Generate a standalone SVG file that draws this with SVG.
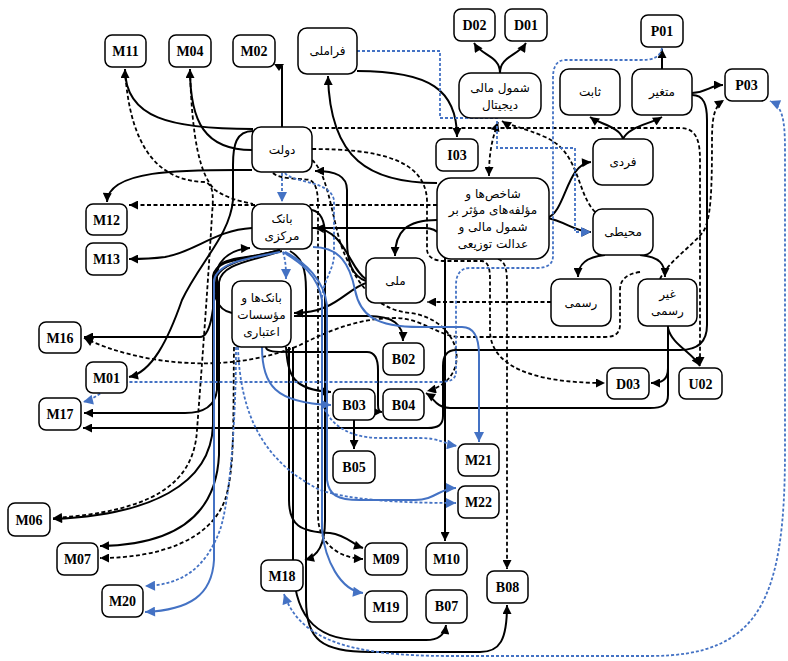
<svg xmlns="http://www.w3.org/2000/svg" width="788" height="661" viewBox="0 0 788 661">
<style>
.n rect{fill:#fff;stroke:#000;stroke-width:1.5}
.c{font-family:"Liberation Serif","Times New Roman",serif;font-weight:bold;font-size:14px;text-anchor:middle}
.p{font-family:"DejaVu Sans","Noto Sans",sans-serif;font-size:12px;text-anchor:middle}
.s{fill:none;stroke:#000;stroke-width:2;marker-end:url(#ak)}
.d{fill:none;stroke:#000;stroke-width:1.8;stroke-dasharray:4 2.5;marker-end:url(#ak)}
.b{fill:none;stroke:#4472C4;stroke-width:2;marker-end:url(#ab)}
.bd{fill:none;stroke:#4472C4;stroke-width:1.8;stroke-dasharray:3 2;marker-end:url(#ab)}
.na{marker-end:none}
.two{marker-start:url(#ak)}
.twob{marker-start:url(#ab)}
</style>
<defs>
<marker id="ak" viewBox="0 0 10 10" refX="10" refY="5" markerWidth="10" markerHeight="9" markerUnits="userSpaceOnUse" orient="auto-start-reverse"><path d="M0,0 L10,5 L0,10 z" fill="#000"/></marker>
<marker id="ab" viewBox="0 0 10 10" refX="10" refY="5" markerWidth="11" markerHeight="10" markerUnits="userSpaceOnUse" orient="auto-start-reverse"><path d="M0,0 L10,5 L0,10 z" fill="#4472C4"/></marker>
</defs>
<rect width="788" height="661" fill="#fff"/>
<g id="connectors">
<path class="s" d="M253,129 C170,129 125,118 125,69"/>
<path class="s" d="M252,150 C205,150 190,122 190,69"/>
<path class="s na" d="M282,127 V66"/>
<polygon points="274,64 284,64 279,71" fill="#000"/>
<path class="s" d="M437,183 C370,183 330,160 328,76"/>
<path class="s" d="M357,71 C430,71 457,90 457,137"/>
<path class="s" d="M500,73 C500,56 482,56 474,43"/>
<path class="s" d="M500,73 C500,56 518,56 526,43"/>
<path class="s" d="M623,139 C620,127 600,124 590,117"/>
<path class="s" d="M623,139 C628,127 650,124 662,117"/>
<path class="s" d="M662,69 V49"/>
<path class="s" d="M692,93 C708,92 710,85 723,85"/>
<path class="s" d="M547,218 C566,212 566,164 591,162"/>
<path class="s" d="M547,218 C565,221 575,232 591,232"/>
<path class="s" d="M605,255 C586,257 578,264 578,277"/>
<path class="s" d="M640,255 C660,257 665,264 665,277"/>
<path class="s" d="M668,326 V368 C668,380 662,383 651,383"/>
<path class="s" d="M668,328 C672,345 692,352 700,366"/>
<path class="s" d="M668,330 V395 C668,405 662,408 650,408 H450 C436,408 434,398 426,393"/>
<path class="s" d="M692,95 C704,95 707,105 707,120 V325 C707,343 697,350 680,350 H456 C447,350 443,356 443,366 V416 C443,425 438,428 428,428 H83"/>
<path class="s" d="M366,283 C345,290 335,313 294,313"/>
<path class="s" d="M294,316 H368 C394,316 403,325 403,341"/>
<path class="s" d="M366,279 C350,270 345,230 315,228"/>
<path class="s" d="M366,281 C352,276 347,262 347,240 V190 C347,176 336,171 315,171"/>
<path class="s" d="M437,220 C406,220 395,232 395,256"/>
<path class="s" d="M312,228 H425 C439,228 445,238 445,255 V541"/>
<path class="s" d="M252,228 C215,230 195,252 165,257 C150,259 140,259 129,259"/>
<path class="s" d="M252,170 C190,170 108,168 107,202"/>
<path class="s" d="M253,131 C236,131 233,145 233,165 V200 C230,235 200,262 182,300 C168,340 152,372 129,377"/>
<path class="s" d="M280,250 C260,258 226,256 219,266 C214,275 216,337 200,337 H84"/>
<path class="s" d="M280,250 C250,258 224,262 217,276 V390 C215,407 202,413 185,413 H84"/>
<path class="s" d="M280,250 C245,260 216,258 213,276 V425 C211,485 150,515 53,519"/>
<path class="s" d="M282,251 C247,262 222,264 219,282 V455 C216,520 170,545 100,546"/>
<path class="s" d="M232,313 C215,310 212,290 215,275 C220,256 235,249 250,248"/>
<path class="s" d="M286,347 C288,375 292,390 331,392"/>
<path class="s" d="M266,347 C266,352 276,352 290,352 H367 C376,352 378,360 378,370 V405 C378,410 379,412 382,412"/>
<path class="s" d="M354,420 V449"/>
<path class="s" d="M289,347 V500 C289,525 300,532 330,533 C346,535 354,545 363,548"/>
<path class="s" d="M312,210 C321,212 325,220 325,236 V520 C325,545 318,556 305,560"/>
<path class="s" d="M293,347 V560 C293,612 312,640 360,640 H426 C440,640 445,633 446,625"/>
<path class="s" d="M290,251 C302,258 306,268 306,290 V600 C306,640 322,652 370,652 H480 C500,652 507,640 507,605"/>
<path class="d" d="M125,70 C130,150 160,181 205,182 C215,185 213,200 212,215 C207,300 200,390 197,430 C194,485 150,512 53,518"/>
<path class="d" d="M273,173 C280,180 300,178 310,180 C316,183 318,192 318,205 V515 C318,545 340,558 363,559"/>
<path class="d na" d="M190,70 C192,140 200,175 215,190 C230,200 245,202 253,204"/>
<path class="d two" d="M498,122 C492,140 489,152 489,176"/>
<path class="d" d="M595,212 C576,192 580,152 545,137 C525,128 508,125 502,121"/>
<path class="d" d="M312,128 H680 C696,128 700,140 700,160 V366"/>
<path class="d" d="M660,279 C668,262 690,248 703,232 C711,220 712,190 712,140 C712,115 715,106 724,100"/>
<path class="d" d="M551,302 H427"/>
<path class="d" d="M312,149 C380,149 425,160 427,200 V250 C428,258 435,261 445,261 H482 C489,262 490,270 490,280 V330 C490,365 530,383 605,383"/>
<path class="d" d="M498,259 C506,262 507,270 507,285 V569"/>
<path class="d" d="M437,205 H129"/>
<path class="d" d="M640,272 C626,274 620,280 620,290 V325 C620,333 615,337 605,337 H460 C440,337 422,318 395,318 C360,318 330,330 300,345 C230,375 140,365 84,338"/>
<path class="d" d="M312,160 C330,175 333,230 345,255 C360,290 380,310 410,313 C435,316 452,332 456,350 C460,372 445,387 427,391"/>
<path class="d" d="M234,347 C233,420 235,470 225,500 C210,540 160,558 100,558"/>
<path class="b" d="M280,252 C250,258 218,262 214,280 V560 C212,595 190,610 145,612"/>
<path class="b" d="M262,347 C262,385 275,403 331,405"/>
<path class="b" d="M283,252 C300,262 318,275 322,300 V530 C325,560 340,590 363,593"/>
<path class="b" d="M285,252 C305,262 324,280 327,305 V480 C329,495 337,500 360,500 H415 C435,500 440,488 456,488"/>
<path class="b" d="M313,247 C340,247 350,265 355,290 C360,315 375,327 420,327 H462 C475,327 479,340 479,355 V442"/>
<path class="bd" d="M357,51 H440 V118 H497 V148 H575 V232 H591"/>
<path class="bd" d="M662,48 C660,58 652,60 640,60 H565 C556,60 553,68 553,78 V256 C553,265 546,268 536,268 H470 C460,268 456,275 456,285 V372 C456,379 450,382 440,382 H130 C108,382 100,398 83,402"/>
<path class="bd twob" d="M284,594 C300,640 350,656 450,656 H650 C760,656 785,600 785,450 V150 C785,118 782,106 770,101"/>
<path class="bd" d="M282,173 V202"/>
<path class="bd" d="M285,173 C292,183 330,180 334,200 V255 C334,270 322,282 322,300 V400 C325,418 342,438 380,438 H420 C440,438 445,444 457,446"/>
<path class="bd" d="M283,252 C286,262 286,270 286,279"/>
<path class="bd" d="M236,347 C236,420 230,500 220,530 C205,570 180,585 145,586"/>
<path class="bd" d="M238,347 C240,410 260,460 320,490 C350,500 400,503 456,503"/>
</g>
<g id="M11" class="n"><rect x="105" y="35" width="41" height="32" rx="7"/><text class="c" x="125.5" y="56">M11</text></g>
<g id="M04" class="n"><rect x="169" y="35" width="42" height="32" rx="7"/><text class="c" x="190" y="56">M04</text></g>
<g id="M02" class="n"><rect x="233" y="35" width="42" height="32" rx="7"/><text class="c" x="254" y="56">M02</text></g>
<g id="framli" class="n"><rect x="298" y="28" width="59" height="46" rx="9"/><text class="p" x="327.5" y="55">فراملی</text></g>
<g id="dolat" class="n"><rect x="252" y="127" width="60" height="45" rx="9"/><text class="p" x="282" y="154">دولت</text></g>
<g id="bank-markazi" class="n"><rect x="252" y="204" width="60" height="45" rx="9"/><text class="p" x="282" y="223">بانک</text><text class="p" x="282" y="240">مرکزی</text></g>
<g id="M12" class="n"><rect x="86" y="204" width="41" height="31" rx="7"/><text class="c" x="106.5" y="224.5">M12</text></g>
<g id="M13" class="n"><rect x="86" y="243" width="41" height="32" rx="7"/><text class="c" x="106.5" y="264">M13</text></g>
<g id="M16" class="n"><rect x="39" y="322" width="42" height="31" rx="7"/><text class="c" x="60" y="342.5">M16</text></g>
<g id="M01" class="n"><rect x="86" y="362" width="41" height="31" rx="7"/><text class="c" x="106.5" y="382.5">M01</text></g>
<g id="M17" class="n"><rect x="39" y="398" width="42" height="32" rx="7"/><text class="c" x="60" y="419">M17</text></g>
<g id="banks" class="n"><rect x="232" y="281" width="59" height="66" rx="9"/><text class="p" x="261.5" y="302">بانک‌ها و</text><text class="p" x="261.5" y="319">مؤسسات</text><text class="p" x="261.5" y="336">اعتباری</text></g>
<g id="melli" class="n"><rect x="366" y="258" width="59" height="45" rx="9"/><text class="p" x="395.5" y="285">ملی</text></g>
<g id="B02" class="n"><rect x="383" y="343" width="41" height="32" rx="7"/><text class="c" x="403.5" y="364">B02</text></g>
<g id="B03" class="n"><rect x="333" y="389" width="42" height="31" rx="7"/><text class="c" x="354" y="409.5">B03</text></g>
<g id="B04" class="n"><rect x="383" y="389" width="41" height="31" rx="7"/><text class="c" x="403.5" y="409.5">B04</text></g>
<g id="B05" class="n"><rect x="333" y="451" width="42" height="32" rx="7"/><text class="c" x="354" y="472">B05</text></g>
<g id="M21" class="n"><rect x="458" y="444" width="41" height="32" rx="7"/><text class="c" x="478.5" y="465">M21</text></g>
<g id="M22" class="n"><rect x="458" y="486" width="41" height="32" rx="7"/><text class="c" x="478.5" y="507">M22</text></g>
<g id="M10" class="n"><rect x="426" y="543" width="41" height="32" rx="7"/><text class="c" x="446.5" y="564">M10</text></g>
<g id="B07" class="n"><rect x="426" y="590" width="41" height="33" rx="7"/><text class="c" x="446.5" y="611">B07</text></g>
<g id="B08" class="n"><rect x="487" y="571" width="41" height="32" rx="7"/><text class="c" x="507.5" y="592">B08</text></g>
<g id="M09" class="n"><rect x="365" y="543" width="42" height="32" rx="7"/><text class="c" x="386" y="564">M09</text></g>
<g id="M19" class="n"><rect x="365" y="591" width="42" height="31" rx="7"/><text class="c" x="386" y="611.5">M19</text></g>
<g id="M18" class="n"><rect x="261" y="560" width="42" height="31" rx="7"/><text class="c" x="282" y="580.5">M18</text></g>
<g id="M06" class="n"><rect x="8" y="503" width="42" height="33" rx="7"/><text class="c" x="29" y="524.5">M06</text></g>
<g id="M07" class="n"><rect x="57" y="543" width="41" height="32" rx="7"/><text class="c" x="77.5" y="564">M07</text></g>
<g id="M20" class="n"><rect x="102" y="585" width="41" height="32" rx="7"/><text class="c" x="122.5" y="606">M20</text></g>
<g id="D02" class="n"><rect x="454" y="9" width="41" height="32" rx="7"/><text class="c" x="474.5" y="30">D02</text></g>
<g id="D01" class="n"><rect x="505" y="9" width="42" height="32" rx="7"/><text class="c" x="526" y="30">D01</text></g>
<g id="shomul" class="n"><rect x="459" y="73" width="82" height="45" rx="12"/><text class="p" x="500" y="92">شمول مالی</text><text class="p" x="500" y="109">دیجیتال</text></g>
<g id="I03" class="n"><rect x="436" y="139" width="42" height="32" rx="7"/><text class="c" x="457" y="160">I03</text></g>
<g id="P01" class="n"><rect x="641" y="15" width="42" height="32" rx="7"/><text class="c" x="662" y="36">P01</text></g>
<g id="sabet" class="n"><rect x="560" y="69" width="60" height="46" rx="9"/><text class="p" x="590" y="96">ثابت</text></g>
<g id="motaghayer" class="n"><rect x="632" y="69" width="60" height="46" rx="9"/><text class="p" x="662" y="96">متغیر</text></g>
<g id="P03" class="n"><rect x="725" y="69" width="43" height="32" rx="7"/><text class="c" x="746.5" y="90">P03</text></g>
<g id="fardi" class="n"><rect x="593" y="139" width="60" height="46" rx="9"/><text class="p" x="623" y="166">فردی</text></g>
<g id="shakhes" class="n"><rect x="437" y="178" width="112" height="81" rx="14"/><text class="p" x="493" y="198">شاخص‌ها و</text><text class="p" x="493" y="214">مؤلفه‌های مؤثر بر</text><text class="p" x="493" y="231">شمول مالی و</text><text class="p" x="493" y="248">عدالت توزیعی</text></g>
<g id="mohiti" class="n"><rect x="593" y="209" width="60" height="46" rx="9"/><text class="p" x="623" y="236">محیطی</text></g>
<g id="rasmi" class="n"><rect x="551" y="279" width="60" height="47" rx="9"/><text class="p" x="581" y="307">رسمی</text></g>
<g id="gheyr-rasmi" class="n"><rect x="638" y="279" width="59" height="47" rx="9"/><text class="p" x="667.5" y="298">غیر</text><text class="p" x="667.5" y="315">رسمی</text></g>
<g id="D03" class="n"><rect x="607" y="368" width="42" height="31" rx="7"/><text class="c" x="628" y="388.5">D03</text></g>
<g id="U02" class="n"><rect x="679" y="368" width="43" height="31" rx="7"/><text class="c" x="700.5" y="388.5">U02</text></g>
</svg>
